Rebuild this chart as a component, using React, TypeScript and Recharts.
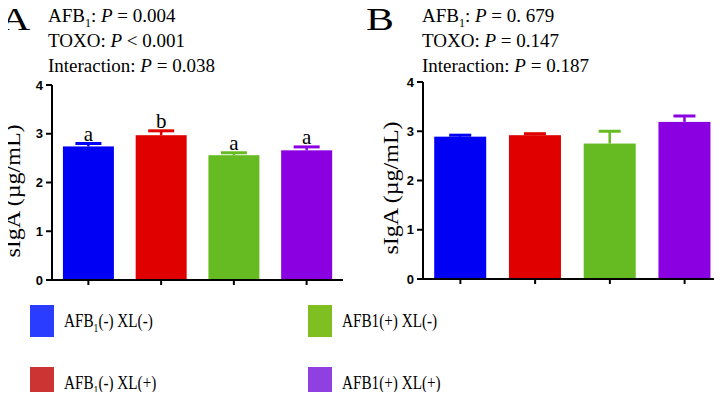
import { BarChart, Bar, XAxis, YAxis, Cell } from "recharts";

const groups = ["AFB1(-) XL(-)", "AFB1(-) XL(+)", "AFB1(+) XL(-)", "AFB1(+) XL(+)"];
const barColors = ["#0000f5", "#e00000", "#66bb22", "#8b00e0"];
const legendColors = ["#2a3cff", "#cc3333", "#7fbf22", "#9040e0"];

// panel A
const meansA = [2.74, 2.97, 2.56, 2.66];
const errA = [0.06, 0.09, 0.05, 0.07];
const lettersA = ["a", "b", "a", "a"];
const statsA = [
  ["AFB", "1", ": ", "P", " = 0.004"],
  ["TOXO: ", "", "", "P", " < 0.001"],
  ["Interaction: ", "", "", "P", " = 0.038"],
];

// panel B
const meansB = [2.89, 2.92, 2.75, 3.19];
const errB = [0.03, 0.03, 0.25, 0.12];
const statsB = [
  ["AFB", "1", ": ", "P", " = 0. 679"],
  ["TOXO: ", "", "", "P", " = 0.147"],
  ["Interaction: ", "", "", "P", " = 0.187"],
];

const yTicks = [0, 1, 2, 3, 4];

const serif = "'Liberation Serif', 'Times New Roman', serif";
const sans = "'Liberation Sans', Arial, sans-serif";

const dataA = groups.map((g, i) => ({ group: g, mean: meansA[i], err: errA[i], letter: lettersA[i] }));
const dataB = groups.map((g, i) => ({ group: g, mean: meansB[i], err: errB[i], letter: "" }));

// bar + one-sided (upper) error bar in the bar colour, letter above the cap
const barWithError = (capW: number) => (props: any) => {
  const { x, y, width, height, payload, index } = props;
  const color = barColors[index];
  const perUnit = height / payload.mean;
  const ey = y - payload.err * perUnit;
  const cx = x + width / 2;
  return (
    <g>
      <rect x={x} y={y} width={width} height={height} fill={color} />
      <line x1={cx} y1={y} x2={cx} y2={ey} stroke={color} strokeWidth={2.5} />
      <line x1={cx - capW / 2} y1={ey} x2={cx + capW / 2} y2={ey} stroke={color} strokeWidth={3} />
      {payload.letter && (
        <text x={cx} y={ey - 3} textAnchor="middle" fontFamily={serif} fontSize={21} fill="#000">
          {payload.letter}
        </text>
      )}
    </g>
  );
};

const StatText = ({ rows, left }: { rows: string[][]; left: number }) => (
  <>
    {rows.map((r, i) => (
      <div
        key={i}
        style={{ position: "absolute", left, top: 5 + i * 25, fontFamily: serif, fontSize: 19, whiteSpace: "nowrap", lineHeight: "22px" }}
      >
        {r[0]}
        {r[1] && <sub style={{ fontSize: 12 }}>{r[1]}</sub>}
        {r[2]}
        <i>{r[3]}</i>
        {r[4]}
      </div>
    ))}
  </>
);

const YLabel = ({ cx, cy }: { cx: number; cy: number }) => (
  <div
    style={{
      position: "absolute",
      left: cx - 80,
      top: cy - 11,
      width: 160,
      height: 22,
      lineHeight: "22px",
      textAlign: "center",
      transform: "rotate(-90deg) scaleX(1.09)",
      fontFamily: serif,
      fontSize: 22,
      whiteSpace: "nowrap",
    }}
  >
    sIgA (µg/mL)
  </div>
);

const axisStroke = { stroke: "#000", strokeWidth: 2 };
const tickStyle = { fontFamily: sans, fontSize: 13, fontWeight: 700, fill: "#000" };

const legendPos = [
  { x: 30, y: 305 },
  { x: 30, y: 367 },
  { x: 308, y: 305 },
  { x: 308, y: 367 },
];

const LegendLabel = ({ i }: { i: number }) => {
  const g = groups[i];
  if (i < 2) {
    return (
      <>
        AFB<sub style={{ fontSize: 12 }}>1</sub>
        {g.slice(4)}
      </>
    );
  }
  return <>{g}</>;
};

const panelLetter = (text: string, left: number) => (
  <div
    style={{
      position: "absolute",
      left,
      top: 2,
      fontFamily: serif,
      fontSize: 31,
      lineHeight: "36px",
      transform: "scaleX(1.35)",
      transformOrigin: "left",
    }}
  >
    {text}
  </div>
);

export default function App() {
  return (
    <div style={{ position: "relative", width: 722, height: 400, margin: -8, background: "#fff", overflow: "hidden" }}>
      {panelLetter("A", 0)}
      {panelLetter("B", 366)}
      <StatText rows={statsA} left={48} />
      <StatText rows={statsB} left={422} />

      <div style={{ position: "absolute", left: 0, top: 0 }}>
        <BarChart width={360} height={300} data={dataA} margin={{ top: 85, right: 17, bottom: 0, left: 0 }} barCategoryGap="15%">
          <XAxis dataKey="group" height={20} axisLine={axisStroke} tickLine={axisStroke} tickSize={5} tickFormatter={() => ""} />
          <YAxis
            width={52}
            domain={[0, 4]}
            ticks={yTicks}
            interval={0}
            axisLine={axisStroke}
            tickLine={axisStroke}
            tickSize={6}
            tickMargin={3}
            tick={tickStyle}
          />
          <Bar dataKey="mean" isAnimationActive={false} shape={barWithError(26)}>
            {dataA.map((_, i) => (
              <Cell key={i} fill={barColors[i]} />
            ))}
          </Bar>
        </BarChart>
      </div>

      <div style={{ position: "absolute", left: 360, top: 0 }}>
        <BarChart width={362} height={300} data={dataB} margin={{ top: 82, right: 0, bottom: 0, left: 0 }} barCategoryGap="15%">
          <XAxis dataKey="group" height={21} axisLine={axisStroke} tickLine={axisStroke} tickSize={5} tickFormatter={() => ""} />
          <YAxis
            width={63}
            domain={[0, 4]}
            ticks={yTicks}
            interval={0}
            axisLine={axisStroke}
            tickLine={axisStroke}
            tickSize={6}
            tickMargin={3}
            tick={tickStyle}
          />
          <Bar dataKey="mean" isAnimationActive={false} shape={barWithError(22)}>
            {dataB.map((_, i) => (
              <Cell key={i} fill={barColors[i]} />
            ))}
          </Bar>
        </BarChart>
      </div>

      <YLabel cx={13} cy={191} />
      <YLabel cx={391} cy={188} />

      {legendPos.map((p, i) => (
        <div key={i}>
          <div style={{ position: "absolute", left: p.x, top: p.y, width: 24, height: 32, background: legendColors[i] }} />
          <div
            style={{
              position: "absolute",
              left: p.x + 34,
              top: p.y + 5,
              fontFamily: serif,
              fontSize: 19,
              whiteSpace: "nowrap",
              lineHeight: "22px",
              transform: "scaleX(0.8)",
              transformOrigin: "left",
            }}
          >
            <LegendLabel i={i} />
          </div>
        </div>
      ))}
    </div>
  );
}
